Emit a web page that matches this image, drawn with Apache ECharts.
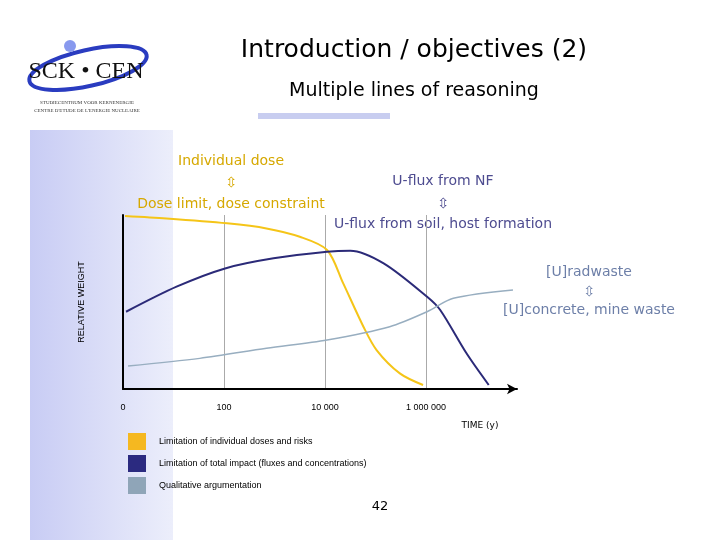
<!DOCTYPE html><html><head><meta charset="utf-8"><script src="https://cdn.jsdelivr.net/npm/echarts@6/dist/echarts.min.js"></script></head><body style="margin:0"><div id="c" style="width:720px;height:540px"></div><script>
const tickLabels={0:'0',1:'100',2:'10 000',3:'1 000 000'};
const individual=[[0.02,99.4],[0.43,98],[1.03,95.2],[1.42,92.3],[1.75,87.5],[2.02,79.9],[2.18,60.7],[2.38,35.8],[2.51,22.4],[2.74,9],[2.97,2.3]];
const totalImpact=[[0.03,44.4],[0.53,58.8],[1.01,69.3],[1.49,75.1],[2.02,78.9],[2.25,79.5],[2.58,72.2],[3.01,53],[3.14,45.4],[3.40,20.5],[3.62,2.3]];
const qualitative=[[0.05,13.2],[0.76,17.6],[1.42,23.4],[2.02,28.2],[2.64,35.8],[3.01,44.4],[3.27,52.1],[3.86,56.9]];
const ff='DejaVu Sans';
const chart=echarts.init(document.getElementById('c'));
chart.setOption({
 backgroundColor:'#fff',
 animation:false,
 grid:{left:123,right:203,top:215,bottom:151},
 xAxis:{type:'value',min:0,max:3.9,interval:1,
  axisLine:{lineStyle:{color:'#000',width:2},symbol:['none','arrow'],symbolSize:[8,10]},
  axisTick:{show:false},
  splitLine:{show:true,showMaxLine:false,lineStyle:{color:'#aaa',width:1}},
  axisLabel:{formatter:v=>tickLabels[v]||'',fontSize:9,color:'#000',margin:14}},
 yAxis:{type:'value',min:0,max:100,
  axisLine:{show:true,lineStyle:{color:'#000',width:2}},axisTick:{show:false},axisLabel:{show:false},splitLine:{show:false},
  name:'RELATIVE WEIGHT',nameLocation:'middle',nameGap:37,nameTextStyle:{fontSize:9,color:'#000'}},
 legend:{orient:'vertical',left:123,top:428,itemWidth:18,itemHeight:17,itemGap:5,icon:'rect',
  textStyle:{fontSize:9,color:'#000',padding:[0,0,0,8]},
  data:['Limitation of individual doses and risks','Limitation of total impact (fluxes and concentrations)','Qualitative argumentation']},
 series:[
  {name:'Limitation of individual doses and risks',type:'line',data:individual,smooth:0.3,symbol:'none',lineStyle:{color:'#f5c518',width:2},itemStyle:{color:'#f5b820'}},
  {name:'Limitation of total impact (fluxes and concentrations)',type:'line',data:totalImpact,smooth:0.3,symbol:'none',lineStyle:{color:'#2b2a78',width:2},itemStyle:{color:'#2b2a80'}},
  {name:'Qualitative argumentation',type:'line',data:qualitative,smooth:0.3,symbol:'none',lineStyle:{color:'#98aec0',width:1.5},itemStyle:{color:'#8fa5b8'}}
 ],
 graphic:[
  {type:'rect',z:-10,shape:{x:30,y:130,width:143,height:410},style:{fill:new echarts.graphic.LinearGradient(0,0,1,0,[{offset:0,color:'#c8ccf4'},{offset:1,color:'#eceefb'}])}},
  {type:'rect',shape:{x:258,y:113,width:132,height:6},style:{fill:'#c8cdf0'}},
  {type:'ellipse',shape:{cx:88,cy:68,rx:60,ry:18},rotation:0.22,originX:88,originY:68,style:{fill:'none',stroke:'#2a3cc0',lineWidth:4}},
  {type:'circle',shape:{cx:70,cy:46,r:6},style:{fill:'#8899ee'}},
  {type:'text',x:86,y:72,style:{text:'SCK • CEN',font:'24px "Liberation Serif"',fill:'#111',align:'center',verticalAlign:'middle'}},
  {type:'text',x:87,y:100,style:{text:'STUDIECENTRUM VOOR KERNENERGIE',font:'5px "Liberation Serif"',fill:'#333',align:'center'}},
  {type:'text',x:87,y:108,style:{text:'CENTRE D\'ETUDE DE L\'ENERGIE NUCLEAIRE',font:'5px "Liberation Serif"',fill:'#333',align:'center'}},
  {type:'text',x:414,y:50,style:{text:'Introduction / objectives (2)',font:'25px "'+ff+'"',fill:'#000',align:'center',verticalAlign:'middle'}},
  {type:'text',x:414,y:91,style:{text:'Multiple lines of reasoning',font:'19px "'+ff+'"',fill:'#000',align:'center',verticalAlign:'middle'}},
  {type:'text',x:480,y:426,style:{text:'TIME (y)',font:'9px "'+ff+'"',fill:'#000',align:'center',verticalAlign:'middle'}},
  {type:'text',x:231,y:161,style:{text:'Individual dose',font:'14px "'+ff+'"',fill:'#d6a800',align:'center',verticalAlign:'middle'}},
  {type:'text',x:231,y:183,style:{text:'⇳',font:'14px "'+ff+'"',fill:'#d6a800',align:'center',verticalAlign:'middle'}},
  {type:'text',x:231,y:204,style:{text:'Dose limit, dose constraint',font:'14px "'+ff+'"',fill:'#d6a800',align:'center',verticalAlign:'middle'}},
  {type:'text',x:443,y:181,style:{text:'U-flux from NF',font:'14px "'+ff+'"',fill:'#4e4c90',align:'center',verticalAlign:'middle'}},
  {type:'text',x:443,y:204,style:{text:'⇳',font:'14px "'+ff+'"',fill:'#4e4c90',align:'center',verticalAlign:'middle'}},
  {type:'text',x:443,y:224,style:{text:'U-flux from soil, host formation',font:'14px "'+ff+'"',fill:'#4e4c90',align:'center',verticalAlign:'middle'}},
  {type:'text',x:589,y:272,style:{text:'[U]radwaste',font:'14px "'+ff+'"',fill:'#6d7fa8',align:'center',verticalAlign:'middle'}},
  {type:'text',x:589,y:292,style:{text:'⇳',font:'14px "'+ff+'"',fill:'#6d7fa8',align:'center',verticalAlign:'middle'}},
  {type:'text',x:589,y:310,style:{text:'[U]concrete, mine waste',font:'14px "'+ff+'"',fill:'#6d7fa8',align:'center',verticalAlign:'middle'}},
  {type:'text',x:380,y:507,style:{text:'42',font:'13px "'+ff+'"',fill:'#000',align:'center',verticalAlign:'middle'}}
 ]
});
</script></body></html>
